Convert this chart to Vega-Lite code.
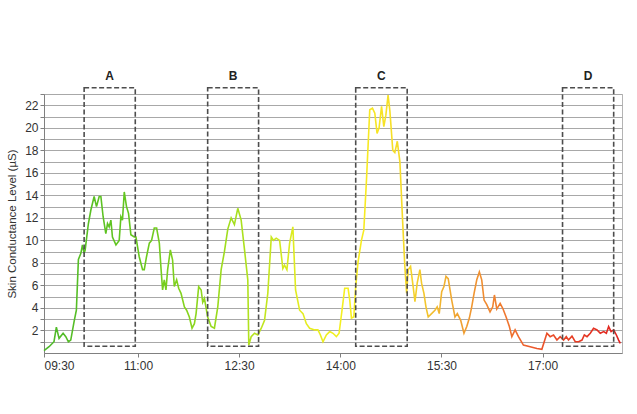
{
  "$schema": "https://vega.github.io/schema/vega-lite/v6.json",
  "width": 578,
  "height": 259,
  "autosize": "none",
  "padding": {"left": 44, "top": 94, "right": 15, "bottom": 61},
  "background": "white",
  "config": {
    "font": "Liberation Sans",
    "view": {"stroke": "#b4b4b4", "strokeWidth": 1},
    "axis": {"labelFont": "Liberation Sans", "titleFont": "Liberation Sans", "labelColor": "#333333", "titleColor": "#333333"}
  },
  "layer": [
    {
      "data": {"values": [
        {"t":6.4,"scl":0.2},{"t":10.9,"scl":0.56},{"t":15.3,"scl":1.0},{"t":17.4,"scl":2.3},{"t":19.8,"scl":1.3},{"t":23.4,"scl":1.75},{"t":25.8,"scl":1.45},{"t":28.1,"scl":1.0},{"t":30.2,"scl":1.15},{"t":33.2,"scl":2.8},{"t":35.2,"scl":3.8},{"t":37.0,"scl":8.3},{"t":39.2,"scl":8.85},{"t":40.6,"scl":9.6},{"t":42.1,"scl":8.85},{"t":43.0,"scl":9.15},{"t":45.9,"scl":11.5},{"t":48.1,"scl":12.7},{"t":51.0,"scl":13.9},{"t":53.1,"scl":13.0},{"t":55.5,"scl":13.9},{"t":57.0,"scl":13.9},{"t":59.0,"scl":12.1},{"t":61.4,"scl":10.6},{"t":62.9,"scl":11.5},{"t":64.4,"scl":11.2},{"t":65.9,"scl":11.8},{"t":67.3,"scl":10.3},{"t":70.4,"scl":9.6},{"t":73.3,"scl":10.0},{"t":74.8,"scl":12.1},{"t":76.2,"scl":11.8},{"t":77.8,"scl":14.3},{"t":79.8,"scl":13.0},{"t":81.6,"scl":12.4},{"t":83.7,"scl":10.5},{"t":86.7,"scl":10.3},{"t":88.2,"scl":10.3},{"t":91.1,"scl":8.55},{"t":94.1,"scl":7.4},{"t":95.6,"scl":7.4},{"t":97.6,"scl":8.55},{"t":100.1,"scl":9.75},{"t":102.1,"scl":10.0},{"t":104.5,"scl":11.1},{"t":106.6,"scl":11.1},{"t":109.0,"scl":9.75},{"t":110.5,"scl":7.5},{"t":111.9,"scl":5.6},{"t":113.4,"scl":6.5},{"t":114.9,"scl":5.6},{"t":116.4,"scl":7.4},{"t":118.8,"scl":9.15},{"t":120.8,"scl":8.25},{"t":122.3,"scl":5.9},{"t":124.4,"scl":6.5},{"t":126.2,"scl":5.75},{"t":128.3,"scl":5.3},{"t":131.3,"scl":4.1},{"t":133.3,"scl":3.8},{"t":135.7,"scl":3.2},{"t":138.1,"scl":2.2},{"t":140.2,"scl":2.6},{"t":141.7,"scl":3.5},{"t":144.0,"scl":5.9},{"t":146.2,"scl":5.6},{"t":147.6,"scl":4.5},{"t":149.1,"scl":4.85},{"t":152.0,"scl":3.2},{"t":155.1,"scl":2.35},{"t":158.0,"scl":2.2},{"t":161.0,"scl":4.1},{"t":164.0,"scl":7.4},{"t":166.9,"scl":9.0},{"t":169.9,"scl":11.0},{"t":172.9,"scl":12.0},{"t":175.8,"scl":11.4},{"t":178.8,"scl":12.85},{"t":181.8,"scl":11.8},{"t":184.8,"scl":9.15},{"t":187.7,"scl":6.5},{"t":188.6,"scl":0.7},{"t":190.7,"scl":1.45},{"t":193.7,"scl":1.75},{"t":196.6,"scl":1.6},{"t":199.7,"scl":2.2},{"t":202.6,"scl":2.9},{"t":205.5,"scl":5.3},{"t":208.6,"scl":10.3},{"t":210.6,"scl":10.0},{"t":213.0,"scl":10.2},{"t":216.0,"scl":10.0},{"t":218.9,"scl":7.5},{"t":220.4,"scl":7.8},{"t":222.5,"scl":7.4},{"t":224.9,"scl":9.75},{"t":227.8,"scl":11.2},{"t":230.2,"scl":5.6},{"t":233.8,"scl":3.8},{"t":236.8,"scl":3.5},{"t":239.8,"scl":2.6},{"t":242.7,"scl":2.2},{"t":247.2,"scl":2.05},{"t":250.1,"scl":2.05},{"t":252.3,"scl":1.6},{"t":254.6,"scl":1.0},{"t":257.6,"scl":1.6},{"t":260.6,"scl":1.9},{"t":263.5,"scl":1.75},{"t":266.5,"scl":1.45},{"t":268.9,"scl":1.75},{"t":271.9,"scl":4.1},{"t":273.9,"scl":5.75},{"t":276.9,"scl":5.75},{"t":278.4,"scl":4.7},{"t":279.9,"scl":3.1},{"t":282.0,"scl":3.2},{"t":283.7,"scl":5.9},{"t":285.8,"scl":8.1},{"t":288.8,"scl":10.0},{"t":290.9,"scl":10.9},{"t":293.3,"scl":15.4},{"t":296.2,"scl":21.6},{"t":298.6,"scl":21.75},{"t":300.7,"scl":21.3},{"t":302.7,"scl":19.5},{"t":304.5,"scl":20.0},{"t":306.7,"scl":21.9},{"t":308.7,"scl":20.1},{"t":310.5,"scl":21.1},{"t":312.5,"scl":22.9},{"t":314.1,"scl":21.5},{"t":316.7,"scl":18.0},{"t":318.5,"scl":17.8},{"t":320.7,"scl":18.8},{"t":323.0,"scl":17.0},{"t":325.4,"scl":11.8},{"t":327.4,"scl":7.7},{"t":329.0,"scl":5.3},{"t":330.4,"scl":7.4},{"t":332.5,"scl":7.7},{"t":334.8,"scl":5.9},{"t":336.4,"scl":4.55},{"t":338.4,"scl":6.2},{"t":340.8,"scl":7.4},{"t":342.3,"scl":6.2},{"t":344.4,"scl":5.3},{"t":346.2,"scl":4.1},{"t":348.2,"scl":3.2},{"t":351.2,"scl":3.5},{"t":354.2,"scl":3.8},{"t":356.2,"scl":4.1},{"t":358.0,"scl":3.5},{"t":360.2,"scl":5.45},{"t":362.2,"scl":5.9},{"t":364.0,"scl":6.8},{"t":366.0,"scl":6.6},{"t":369.1,"scl":4.7},{"t":372.0,"scl":3.2},{"t":374.1,"scl":3.5},{"t":377.1,"scl":2.9},{"t":380.0,"scl":1.75},{"t":382.5,"scl":2.35},{"t":384.8,"scl":3.1},{"t":386.9,"scl":4.1},{"t":389.0,"scl":5.3},{"t":391.4,"scl":6.5},{"t":393.7,"scl":7.2},{"t":395.8,"scl":6.5},{"t":397.9,"scl":4.7},{"t":400.3,"scl":4.3},{"t":403.2,"scl":3.65},{"t":405.6,"scl":4.1},{"t":407.1,"scl":5.15},{"t":409.2,"scl":3.9},{"t":412.2,"scl":4.4},{"t":414.6,"scl":3.95},{"t":417.5,"scl":3.2},{"t":420.4,"scl":2.35},{"t":422.6,"scl":1.45},{"t":425.5,"scl":2.05},{"t":428.5,"scl":1.45},{"t":432.9,"scl":0.7},{"t":438.9,"scl":0.56},{"t":444.9,"scl":0.4},{"t":449.3,"scl":0.33},{"t":453.8,"scl":1.75},{"t":456.7,"scl":1.45},{"t":459.7,"scl":1.6},{"t":462.7,"scl":1.15},{"t":465.6,"scl":1.45},{"t":468.6,"scl":1.15},{"t":471.0,"scl":1.45},{"t":473.0,"scl":1.15},{"t":476.1,"scl":1.5},{"t":479.0,"scl":1.0},{"t":482.0,"scl":1.0},{"t":485.0,"scl":1.15},{"t":487.1,"scl":1.6},{"t":489.5,"scl":1.45},{"t":492.4,"scl":1.75},{"t":495.3,"scl":2.2},{"t":498.4,"scl":2.05},{"t":501.3,"scl":1.75},{"t":504.3,"scl":1.9},{"t":506.7,"scl":1.75},{"t":508.7,"scl":2.35},{"t":510.9,"scl":1.9},{"t":513.2,"scl":2.05},{"t":515.6,"scl":1.6},{"t":517.6,"scl":1.15},{"t":519.1,"scl":0.85}
      ]},
      "mark": {
        "type": "line",
        "strokeWidth": 1.6,
        "stroke": {
          "gradient": "linear", "x1": 0, "y1": 0, "x2": 1, "y2": 0,
          "stops": [
            {"offset": 0, "color": "#4db82a"},
            {"offset": 0.163, "color": "#66c81e"},
            {"offset": 0.339, "color": "#a8e01e"},
            {"offset": 0.436, "color": "#e0ec20"},
            {"offset": 0.534, "color": "#f8f020"},
            {"offset": 0.631, "color": "#f5d82a"},
            {"offset": 0.709, "color": "#f0a832"},
            {"offset": 0.787, "color": "#f08030"},
            {"offset": 0.846, "color": "#ec5a2c"},
            {"offset": 1, "color": "#e0201e"}
          ]
        }
      },
      "encoding": {
        "x": {
          "field": "t", "type": "quantitative",
          "scale": {"domain": [6.4, 520.6], "nice": false, "zero": false},
          "axis": {
            "title": null, "grid": false,
            "values": [6.4, 90, 180, 270, 360, 450],
            "tickCount": 10,
            "labelExpr": "datum.value < 30 ? '09:30' : timeFormat(datetime(2000, 0, 1, 9, 30 + datum.value), '%H:%M')",
            "labelFlush": true,
            "labelFontSize": 12, "labelPadding": 3,
            "tickSize": 4, "tickColor": "#808080",
            "domainColor": "#808080"
          }
        },
        "y": {
          "field": "scl", "type": "quantitative",
          "scale": {"domain": [0, 23], "nice": false},
          "axis": {
            "title": "Skin Conductance Level (µS)",
            "titleFontSize": 11.5, "titleFontWeight": "normal", "titlePadding": 7,
            "values": [1,2,3,4,5,6,7,8,9,10,11,12,13,14,15,16,17,18,19,20,21,22,23],
            "tickCount": 40,
            "labelOverlap": false,
            "labelExpr": "datum.value % 2 == 0 ? format(datum.value, 'd') : ''",
            "labelFontSize": 12, "labelPadding": 2,
            "grid": true, "gridColor": "#a8a8a8", "gridOpacity": 1,
            "tickSize": 4, "tickColor": "#808080",
            "domainColor": "#808080"
          }
        }
      }
    },
    {
      "data": {"values": [
        {"box": "A", "start": 42.1, "end": 87.6},
        {"box": "B", "start": 152.0, "end": 197.3},
        {"box": "C", "start": 283.7, "end": 329.5},
        {"box": "D", "start": 467.7, "end": 513.2}
      ]},
      "layer": [
        {
          "mark": {"type": "rect", "fill": "white", "fillOpacity": 0, "stroke": "#4d4d4d", "strokeWidth": 1.6, "strokeDash": [5, 2.5]},
          "encoding": {
            "x": {"field": "start", "type": "quantitative"},
            "x2": {"field": "end"},
            "y": {"datum": 0.6, "type": "quantitative"},
            "y2": {"datum": 23.55}
          }
        },
        {
          "transform": [{"calculate": "(datum.start + datum.end) / 2", "as": "mid"}],
          "mark": {"type": "text", "baseline": "bottom", "dy": -5, "fontWeight": "bold", "fontSize": 12, "color": "#222222", "font": "Liberation Sans"},
          "encoding": {
            "x": {"field": "mid", "type": "quantitative"},
            "y": {"datum": 23.55, "type": "quantitative"},
            "text": {"field": "box"}
          }
        }
      ]
    }
  ]
}
